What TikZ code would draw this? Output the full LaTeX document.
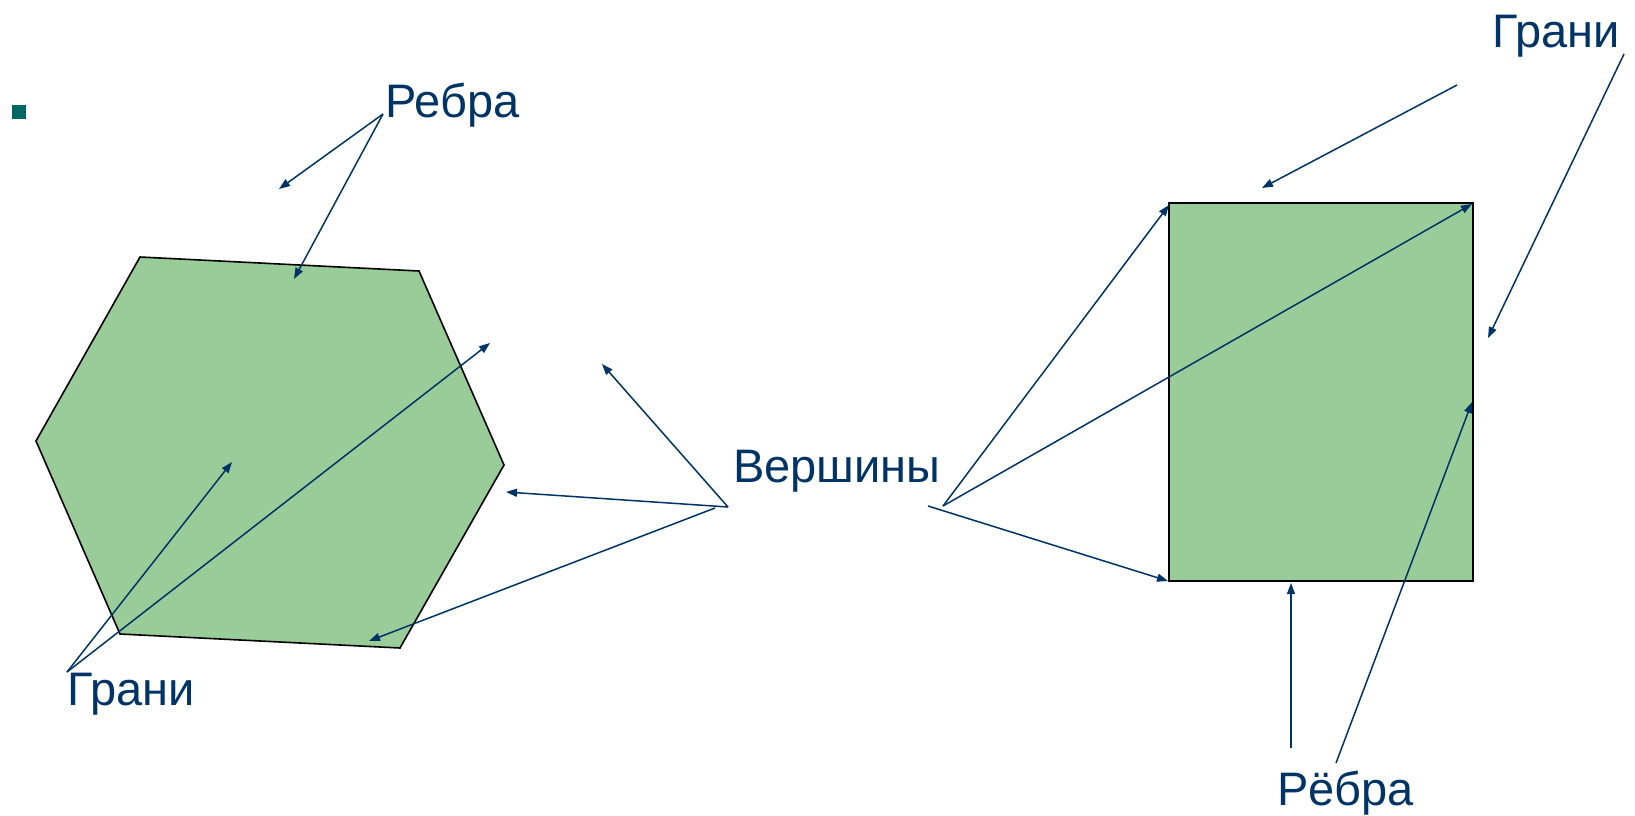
\documentclass[tikz,border=0pt]{standalone}
\usepackage{fontspec}
\setmainfont{Liberation Sans}
\usetikzlibrary{arrows.meta}
\definecolor{navy}{RGB}{0,51,102}
\definecolor{facegreen}{RGB}{153,204,153}
\definecolor{bulletteal}{RGB}{0,102,102}
\begin{document}
\begin{tikzpicture}[x=1pt,y=-1pt,
  lbl/.style={text=navy, font=\fontsize{47}{56}\selectfont, inner sep=0pt, anchor=base west},
  arr/.style={draw=navy, line width=1.5pt, -{Triangle[length=11pt,width=8pt]}},
  face/.style={fill=facegreen, draw=black, line width=1.6pt, line join=miter}]
\useasboundingbox (0,0) rectangle (1635,816);
% bullet
\fill[bulletteal] (12,105) rectangle (26,119);
% hexagon and square
\draw[face] (140,257) -- (419,271) -- (504,465) -- (400,648) -- (120,634) -- (36,441) -- cycle;
\draw[face] (1169,203) rectangle (1473,581);
% labels
\node[lbl] (rebra)    at (385,117)  {Ребра};
\node[lbl] (granil)   at (67,705)   {Грани};
\node[lbl] (vershiny) at (733,482)  {Вершины};
\node[lbl] (granir)   at (1492,48)  {Грани};
\node[lbl] (rebrar)   at (1277,805) {Рёбра};
% arrow ends
\coordinate (rA) at (383,114);
\coordinate (rT1) at (279,189);
\coordinate (rT2) at (294,279);
\coordinate (gA) at (67,672);
\coordinate (gT1) at (232,462);
\coordinate (gT2) at (490,343);
\coordinate (vL) at (728,507);
\coordinate (vL2) at (715,508);
\coordinate (vT1) at (602,364);
\coordinate (vT2) at (506,492);
\coordinate (vT3) at (369,641);
\coordinate (vR) at (943,506);
\coordinate (vR2) at (928,506);
\coordinate (vT4) at (1169,205);
\coordinate (vT5) at (1472,204);
\coordinate (vT6) at (1168,581);
\coordinate (grA1) at (1457,85);
\coordinate (grA2) at (1624,54);
\coordinate (grT1) at (1262,188);
\coordinate (grT2) at (1488,338);
\coordinate (rrA1) at (1291,748);
\coordinate (rrA2) at (1336,763);
\coordinate (rrT1) at (1291,583);
\coordinate (rrT2) at (1472,402);
% connectors
\draw[arr] (rA) -- (rT1);
\draw[arr] (rA) -- (rT2);
\draw[arr] (gA) -- (gT1);
\draw[arr] (gA) -- (gT2);
\draw[arr] (vL) -- (vT1);
\draw[arr] (vL) -- (vT2);
\draw[arr] (vL2) -- (vT3);
\draw[arr] (vR) -- (vT4);
\draw[arr] (vR) -- (vT5);
\draw[arr] (vR2) -- (vT6);
\draw[arr] (grA1) -- (grT1);
\draw[arr] (grA2) -- (grT2);
\draw[arr] (rrA1) -- (rrT1);
\draw[arr] (rrA2) -- (rrT2);
\end{tikzpicture}
\end{document}
